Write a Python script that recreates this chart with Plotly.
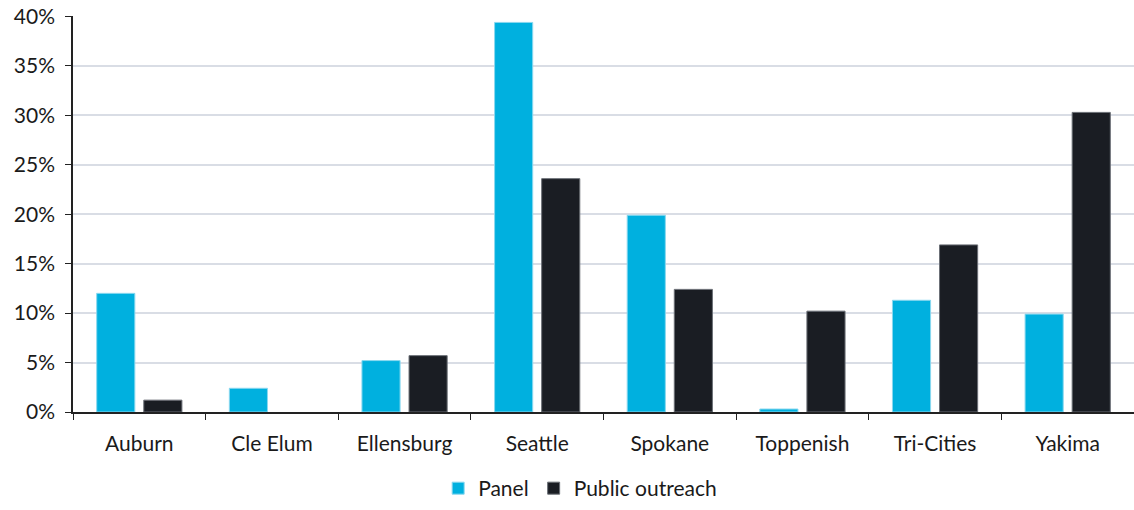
import plotly.graph_objects as go

cities = ["Auburn", "Cle Elum", "Ellensburg", "Seattle", "Spokane", "Toppenish", "Tri-Cities", "Yakima"]
panel = [0.120, 0.024, 0.052, 0.394, 0.199, 0.003, 0.113, 0.099]
public_outreach = [0.012, 0.0, 0.057, 0.236, 0.124, 0.102, 0.169, 0.303]

fig = go.Figure()
fig.add_trace(go.Bar(
    x=cities, y=panel, name="Panel",
    marker=dict(color="#00B0DF",
                line=dict(color="#8AD8EF", width=[0 if v == 0 else 1 for v in panel])),
))
fig.add_trace(go.Bar(
    x=cities, y=public_outreach, name="Public outreach",
    marker=dict(color="#1A1D23",
                line=dict(color="#6B6F76", width=[0 if v == 0 else 1 for v in public_outreach])),
))

fig.update_layout(
    barmode="group",
    bargap=0.29,
    bargroupgap=0.19,
    width=1134,
    height=510,
    plot_bgcolor="white",
    paper_bgcolor="white",
    font=dict(family="Lato, Open Sans, sans-serif", size=21, color="#1a1a1a"),
    margin=dict(l=73, r=0, t=16, b=98),
    legend=dict(orientation="h", x=0.478, xanchor="center", y=-0.245, yanchor="bottom",
                font=dict(size=21), itemwidth=30, traceorder="normal"),
)
fig.update_yaxes(
    range=[0, 0.4005], dtick=0.05, tickformat=".0%",
    showgrid=True, gridcolor="#D9DDE5", gridwidth=1.5,
    showline=True, linecolor="#222", linewidth=1.5,
    ticks="outside", ticklen=6, tickcolor="#222",
    zeroline=False, automargin=False, ticklabelstandoff=6,
)
fig.update_xaxes(
    showline=True, linecolor="#222", linewidth=1.5,
    ticks="outside", ticklen=6, tickcolor="#222", tickson="boundaries",
    showgrid=False, automargin=False, ticklabelstandoff=12,
)

# drop the default body margin so the figure fills the window exactly
fig.write_html("out.html", config={"displayModeBar": False},
               post_script="document.body.style.margin='0';")
